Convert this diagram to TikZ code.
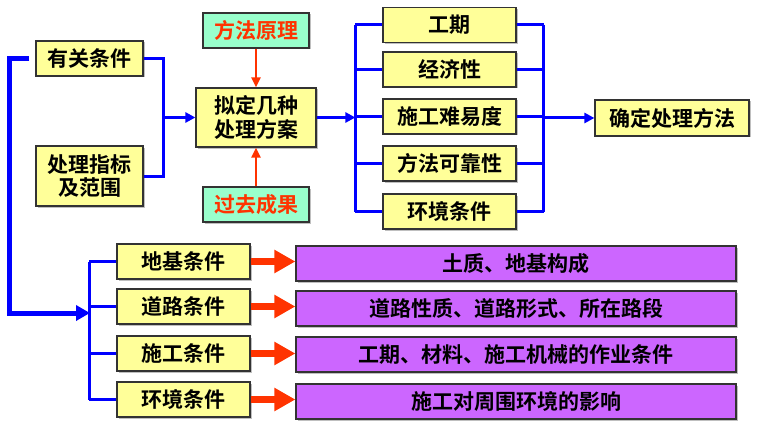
\documentclass[tikz,border=0pt]{standalone}
\usepackage{fontspec}
\setmainfont{Noto Sans CJK SC}[BoldFont={Noto Sans CJK SC Bold}]
\usetikzlibrary{arrows.meta,shadows}
\definecolor{boxyellow}{HTML}{FFFF99}
\definecolor{boxmint}{HTML}{99FFCC}
\definecolor{boxpurple}{HTML}{CC66FF}
\definecolor{lineblue}{HTML}{0000FF}
\definecolor{linered}{HTML}{FF3300}
\definecolor{boxedge}{HTML}{333333}
\tikzset{
  base/.style={draw=boxedge, line width=1.2pt, inner sep=0pt, align=center,
    font=\fontsize{21}{24}\selectfont\bfseries,
    drop shadow={shadow xshift=1.5pt, shadow yshift=-1.5pt, opacity=0.25, fill=black}},
  ybox/.style={base, fill=boxyellow, minimum height=35pt},
  gbox/.style={base, fill=boxmint, text=linered, minimum width=106pt, minimum height=35pt},
  pbox/.style={base, fill=boxpurple, minimum width=440pt, minimum height=35pt},
  blueline/.style={draw=lineblue, line width=3pt},
  bigblue/.style={draw=lineblue, line width=5pt},
  bluearrow/.style={blueline, -{Triangle[length=10pt,width=10pt]}},
  redarrow/.style={draw=linered, line width=2.2pt, -{Triangle[length=10pt,width=9pt]}},
  fatred/.style={draw=linered, line width=6.5pt, -{Triangle[length=21pt,width=22pt]}},
}
\begin{document}
\begin{tikzpicture}[x=1pt,y=-1pt]
\fill[white] (0,0) rectangle (760,433);
\useasboundingbox (0,0) rectangle (760,433);

% left group
\node[ybox, minimum width=107pt] (a1) at (89.5,58.5) {有关条件};
\node[ybox, minimum width=107pt, minimum height=60pt] (a2) at (89.5,176) {处理指标\\[-1pt]及范围};
\node[ybox, minimum width=120pt, minimum height=59pt] (m) at (256,117.5) {拟定几种\\处理方案};
\node[gbox] (p1) at (256,30.5) {方法原理};
\node[gbox] (p2) at (256,204.5) {过去成果};

% criteria column
\node[ybox, minimum width=133pt] (c1) at (449.5,25) {工期};
\node[ybox, minimum width=133pt] (c2) at (449.5,69.5) {经济性};
\node[ybox, minimum width=133pt] (c3) at (449.5,116.5) {施工难易度};
\node[ybox, minimum width=133pt] (c4) at (449.5,163.5) {方法可靠性};
\node[ybox, minimum width=133pt] (c5) at (449.5,211.5) {环境条件};
\node[ybox, minimum width=154pt, minimum height=36pt] (r) at (672,118) {确定处理方法};

% bottom rows
\node[ybox, minimum width=133pt] (b1) at (183.5,261.5) {地基条件};
\node[ybox, minimum width=133pt] (b2) at (183.5,306.5) {道路条件};
\node[ybox, minimum width=133pt] (b3) at (183.5,353.5) {施工条件};
\node[ybox, minimum width=133pt] (b4) at (183.5,399.5) {环境条件};
\node[pbox] (q1) at (516,263.5) {土质、地基构成};
\node[pbox] (q2) at (516,308.5) {道路性质、道路形式、所在路段};
\node[pbox] (q3) at (516,354.5) {工期、材料、施工机械的作业条件};
\node[pbox] (q4) at (516,401.5) {施工对周围环境的影响};

% coordinates for brackets
\coordinate (ajoin) at ([xshift=20pt]a1.east);
\coordinate (cl) at ([xshift=-27pt]c3.west);
\coordinate (cr) at ([xshift=27pt]c3.east);
\coordinate (bl) at ([xshift=-27pt]b2.west);
\coordinate (bk) at (90,313);

% left pair to m
\draw[blueline] (a1.east) -- (ajoin) -- (ajoin |- a2.east) -- (a2.east);
\draw[bluearrow] (ajoin |- m.west) -- (m.west);

% red inputs
\draw[redarrow] (p1.south) -- (m.north);
\draw[redarrow] (p2.north) -- (m.south);

% m to criteria
\draw[bluearrow] (m.east) -- (m.east -| cl);
\draw[blueline] (cl |- c1.west) -- (cl |- c5.west);
\draw[blueline] (cr |- c1.east) -- (cr |- c5.east);
\foreach \i in {1,...,5}{
  \draw[blueline] (cl |- c\i.west) -- (c\i.west);
  \draw[blueline] (c\i.east) -- (cr |- c\i.east);
}
\draw[bluearrow] (cr |- r.west) -- (r.west);

% big left connector
\draw[bigblue, line join=miter, -{Triangle[length=14pt,width=15pt]}]
  ([xshift=-6pt]a1.west) -- ++(-20pt,0) |- (bk);

% bottom bracket
\draw[blueline] (bl |- b1.west) -- (bl |- b4.west);
\foreach \i in {1,...,4}{
  \draw[blueline] (bl |- b\i.west) -- (b\i.west);
  \draw[fatred] (b\i.east) -- (b\i.east -| q\i.west);
}
\end{tikzpicture}
\end{document}
